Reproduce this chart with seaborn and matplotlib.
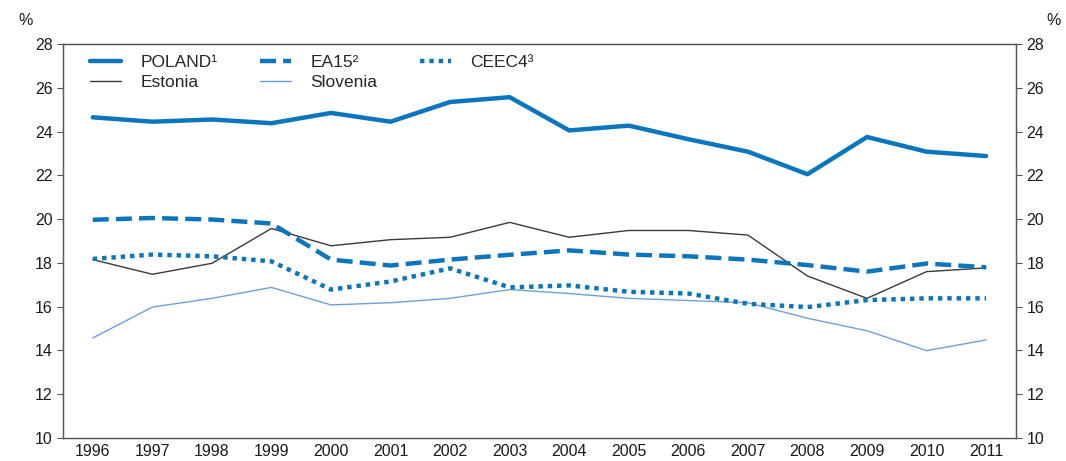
import matplotlib
matplotlib.use("Agg")
import matplotlib.pyplot as plt
import seaborn as sns
import pandas as pd
import numpy as np

years = [str(y) for y in range(1996, 2012)]
poland = [24.65, 24.45, 24.55, 24.38, 24.85, 24.45, 25.35, 25.57, 24.05, 24.27, 23.65, 23.08, 22.05, 23.75, 23.08, 22.88]
ea15 = [19.97, 20.05, 19.98, 19.8, 18.15, 17.88, 18.15, 18.37, 18.57, 18.38, 18.3, 18.15, 17.9, 17.6, 17.97, 17.8]
estonia = [18.15, 17.48, 17.98, 19.57, 18.78, 19.06, 19.17, 19.85, 19.17, 19.48, 19.48, 19.27, 17.4, 16.38, 17.6, 17.77]
ceec4 = [18.18, 18.38, 18.3, 18.07, 16.78, 17.15, 17.75, 16.88, 16.97, 16.68, 16.6, 16.13, 15.98, 16.3, 16.38, 16.38]
slovenia = [14.57, 15.98, 16.38, 16.88, 16.08, 16.18, 16.38, 16.78, 16.6, 16.38, 16.28, 16.18, 15.47, 14.9, 13.99, 14.48]
yticks = [10, 12, 14, 16, 18, 20, 22, 24, 26, 28]

sns.set_theme(style="white")
plt.rcParams['font.family'] = ['Liberation Sans', 'DejaVu Sans']

BLUE = "#0b76bd"
LIGHT = "#6f9fd8"
DARK = "#3a3a3a"

fig = plt.figure(figsize=(10.66, 4.61), dpi=100)
ax = fig.add_axes([0.0591, 0.0499, 0.8939, 0.8547])

series = [
    ("POLAND¹", poland, dict(color=BLUE, lw=3.2, ls="-")),
    ("Estonia", estonia, dict(color=DARK, lw=1.0, ls="-")),
    ("EA15²", ea15, dict(color=BLUE, lw=3.2, ls=(0, (3.6, 1.6)))),
    ("Slovenia", slovenia, dict(color=LIGHT, lw=1.0, ls="-")),
    ("CEEC4³", ceec4, dict(color=BLUE, lw=3.2, ls=(0, (1, 1.1)))),
]
for name, vals, st in series:
    df = pd.DataFrame({"year": years, "value": vals})
    sns.lineplot(data=df, x="year", y="value", ax=ax, label=name,
                 color=st["color"], linewidth=st["lw"], linestyle=st["ls"],
                 sort=False)

ax.set_xlim(-0.5, len(years) - 0.5)
ax.set_ylim(10, 28)
ax.set_xlabel("")
ax.set_ylabel("")
ax.set_yticks(yticks)
ax.set_xticks(range(len(years)))
ax.set_xticklabels(years)
ax.set_xticks(np.arange(-0.5, len(years), 1.0), minor=True)
ax.tick_params(axis="x", which="major", length=0, labelsize=11.5, pad=4, colors="#1a1a1a")
ax.tick_params(axis="x", which="minor", length=4, direction="in", width=0.8, color="#555555")
ax.tick_params(axis="y", length=4, direction="out", width=0.8, color="#555555", labelsize=11.5, labelcolor="#1a1a1a")
ax.yaxis.set_ticks_position("left")
for s in ax.spines.values():
    s.set_color("#555555")
    s.set_linewidth(0.9)

ax2 = ax.twinx()
ax2.set_ylim(10, 28)
ax2.set_yticks(yticks)
ax2.tick_params(axis="y", length=4, direction="out", width=0.8, color="#555555", labelsize=11.5, labelcolor="#1a1a1a")
for s in ax2.spines.values():
    s.set_color("#555555")
    s.set_linewidth(0.9)
ax2.grid(False)

leg = ax.legend(ncol=3, loc="upper left", bbox_to_anchor=(0.012, 1.012), frameon=False,
                fontsize=12.5, handlelength=1.8, columnspacing=2.45, handletextpad=1.1,
                labelspacing=0.3)

fig.text(0.017, 0.955, "%", fontsize=11.5, ha="left", va="center", color="#1a1a1a")
fig.text(0.995, 0.955, "%", fontsize=11.5, ha="right", va="center", color="#1a1a1a")

fig.savefig("out.png", dpi=100)
